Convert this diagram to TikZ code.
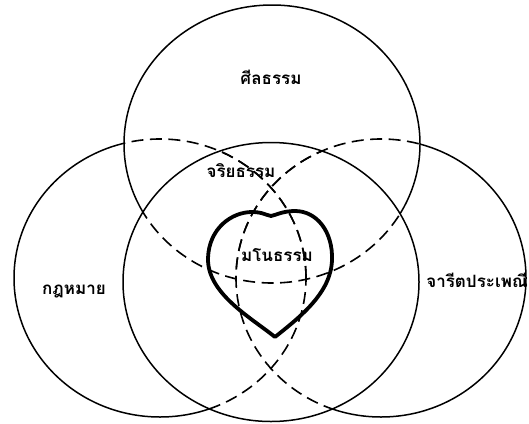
\documentclass[tikz,border=0pt]{standalone}
\usepackage{fontspec}
\newfontfamily\thaifont[Script=Thai]{Loma}
\tikzset{
  circ/.style={line width=1.5pt},
  hid/.style={line width=1.6pt, dash pattern=on 12pt off 6.5pt},
  heartline/.style={line width=3.8pt, line join=round},
  lbl/.style={font=\thaifont\bfseries\fontsize{17}{19}\selectfont, inner sep=0pt}
}
\def\Etop{(272,144) ellipse [x radius=148pt, y radius=139pt]}
\def\Emid{(271,282) ellipse [x radius=148pt, y radius=139.5pt]}
\def\Eleft{(160,278) ellipse [x radius=146pt, y radius=139pt]}
\def\Eright{(381,278) ellipse [x radius=145pt, y radius=139pt]}
\def\Big{(-20,-20) rectangle (560,460)}
\begin{document}
\begin{tikzpicture}[x=1pt,y=-1pt]
\useasboundingbox (0,0) rectangle (529,423);
% middle circle, fully visible
\draw[circ] \Emid;
% top circle
\begin{scope}[even odd rule]
  \clip \Big \Emid;
  \draw[circ] \Etop;
\end{scope}
\begin{scope}
  \clip \Emid;
  \draw[hid] \Etop;
\end{scope}
% left circle
\begin{scope}[even odd rule]
  \clip \Big \Etop;
  \clip \Big \Emid;
  \draw[circ] \Eleft;
\end{scope}
\begin{scope}
  \clip \Etop;
  \draw[hid] \Eleft;
\end{scope}
\begin{scope}
  \clip \Emid;
  \draw[hid] \Eleft;
\end{scope}
% right circle
\begin{scope}[even odd rule]
  \clip \Big \Etop;
  \clip \Big \Emid;
  \draw[circ] \Eright;
\end{scope}
\begin{scope}
  \clip \Etop;
  \draw[hid] \Eright;
\end{scope}
\begin{scope}
  \clip \Emid;
  \draw[hid] \Eright;
\end{scope}
% heart
\draw[heartline] (275,337) .. controls (250,317) and (207,293) .. (208,258)
  .. controls (209,228) and (232,212) .. (252,212)
  .. controls (262,212) and (266,215) .. (271,216)
  .. controls (276,215) and (283,211) .. (295,211)
  .. controls (317,211) and (333,232) .. (332,260)
  .. controls (331,293) and (300,317) .. (275,337) -- cycle;
% labels
\node[lbl] (sila) at (271,77) {ศีลธรรม};
\node[lbl] (jariya) at (241,171) {จริยธรรม};
\node[lbl] (mano) at (277,255) {มโนธรรม};
\node[lbl] (law) at (74,292) {กฎหมาย};
\node[lbl, anchor=east] (custom) at (528,280) {จารีตประเพณี};
\end{tikzpicture}
\end{document}
